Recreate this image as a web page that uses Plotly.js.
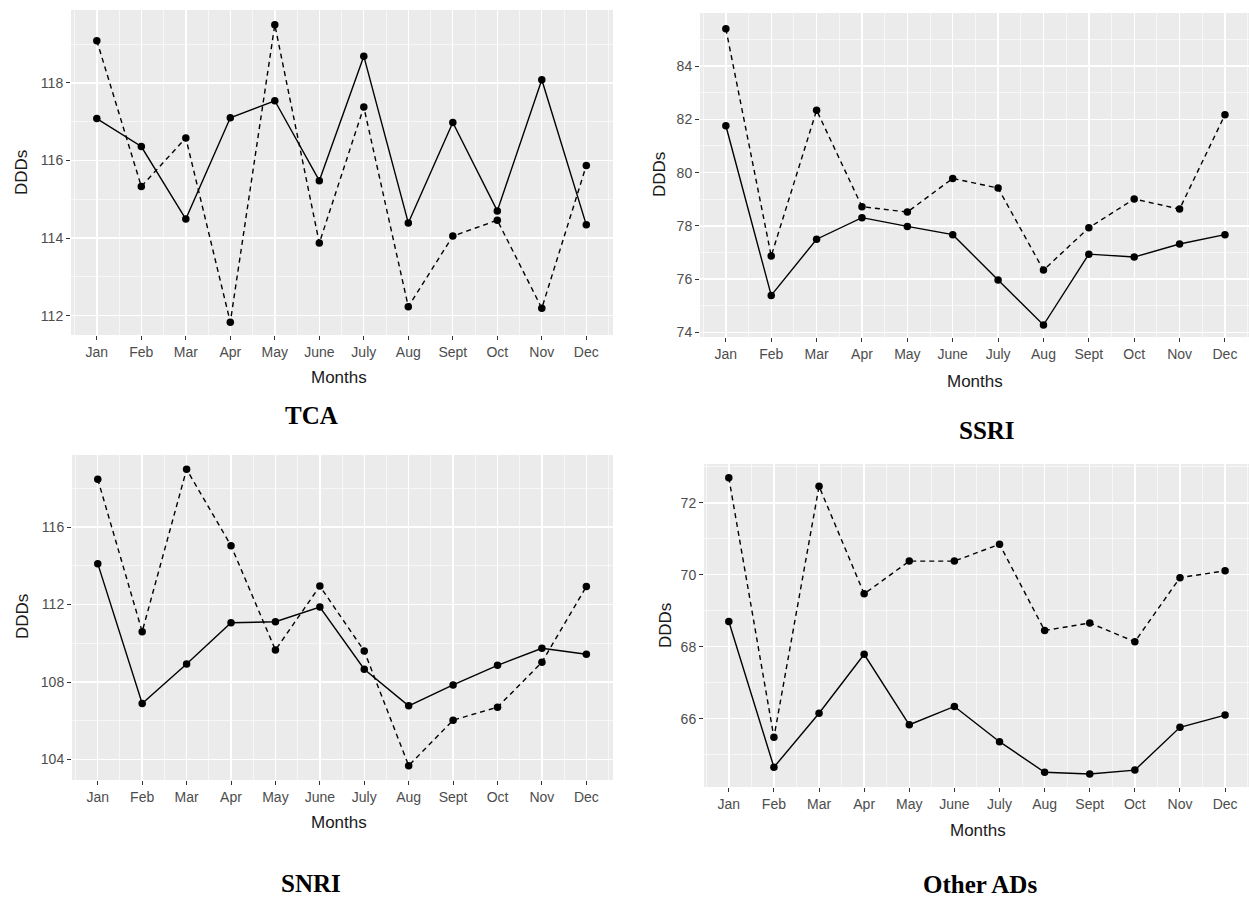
<!DOCTYPE html>
<html>
<head>
<meta charset="utf-8">
<script src="https://cdn.plot.ly/plotly-3.0.1.min.js"></script>
<style>
  html, body { margin: 0; padding: 0; background: #fff; }
  #chart { width: 1249px; height: 900px; }
</style>
</head>
<body>
<div id="chart"></div>
<script>
// ---- Data ----
const months = ["Jan", "Feb", "Mar", "Apr", "May", "June", "July", "Aug", "Sept", "Oct", "Nov", "Dec"];

const tcaSolid  = [117.08, 116.36, 114.49, 117.10, 117.54, 115.48, 118.69, 114.39, 116.98, 114.70, 118.08, 114.34];
const tcaDashed = [119.09, 115.33, 116.58, 111.83, 119.50, 113.87, 117.38, 112.23, 114.05, 114.46, 112.19, 115.87];

const ssriSolid  = [81.76, 75.39, 77.50, 78.31, 77.98, 77.67, 75.97, 74.28, 76.94, 76.83, 77.32, 77.67];
const ssriDashed = [85.40, 76.87, 82.34, 78.72, 78.52, 79.78, 79.42, 76.34, 77.93, 79.01, 78.63, 82.17];

const snriSolid  = [114.11, 106.89, 108.93, 111.06, 111.11, 111.87, 108.66, 106.77, 107.85, 108.86, 109.74, 109.43];
const snriDashed = [118.47, 110.60, 118.98, 115.04, 109.65, 112.95, 109.60, 103.68, 106.03, 106.70, 109.02, 112.93];

const otherSolid  = [68.70, 64.65, 66.15, 67.79, 65.83, 66.34, 65.36, 64.51, 64.46, 64.57, 65.76, 66.10];
const otherDashed = [72.70, 65.48, 72.46, 69.47, 70.38, 70.38, 70.85, 68.45, 68.66, 68.14, 69.92, 70.11];

const tcaTicks   = [112, 114, 116, 118];
const ssriTicks  = [74, 76, 78, 80, 82, 84];
const snriTicks  = [104, 108, 112, 116];
const otherTicks = [66, 68, 70, 72];

const panelTitles = ["TCA", "SSRI", "SNRI", "Other ADs"];
const xTitle = "Months";
const yTitle = "DDDs";

// ---- Layout helpers ----
const W = 1249, H = 900;
const px = v => v / W;
const py = v => 1 - v / H;
const xIdx = months.map((m, i) => i);
const minorX = months.map((m, i) => i + 0.5).concat([-0.5]);

function mids(ticks) {
  const step = ticks[1] - ticks[0];
  const out = [];
  for (let i = 0; i <= ticks.length; i++) out.push(ticks[0] + step * (i - 0.5));
  return out;
}

const panels = [
  { solid: tcaSolid,   dashed: tcaDashed,   ticks: tcaTicks,   box: [71, 613, 10, 335],  xr: [-0.58, 11.6],  yr: [111.50, 119.88],
    title: [311, 415], xt: [339, 378], yt: [22, 173] },
  { solid: ssriSolid,  dashed: ssriDashed,  ticks: ssriTicks,  box: [700, 1249, 13, 337], xr: [-0.57, 11.53], yr: [73.83, 85.99],
    title: [987, 430], xt: [975, 382], yt: [660, 175] },
  { solid: snriSolid,  dashed: snriDashed,  ticks: snriTicks,  box: [72, 613, 455, 780], xr: [-0.58, 11.6],  yr: [102.94, 119.72],
    title: [311, 883], xt: [339, 822], yt: [22, 617] },
  { solid: otherSolid, dashed: otherDashed, ticks: otherTicks, box: [704, 1249, 464, 787], xr: [-0.55, 11.53], yr: [64.10, 73.08],
    title: [980, 884], xt: [978, 830], yt: [665, 626] }
];

const traces = [];
const layout = {
  width: W, height: H,
  margin: { l: 0, r: 0, t: 0, b: 0 },
  paper_bgcolor: "#ffffff",
  plot_bgcolor: "#EBEBEB",
  showlegend: false,
  font: { family: "Liberation Sans, Arial, sans-serif", color: "#4D4D4D" },
  annotations: []
};

panels.forEach((p, k) => {
  const n = k + 1;
  const xa = "x" + (n === 1 ? "" : n);
  const ya = "y" + (n === 1 ? "" : n);
  const xKey = "xaxis" + (n === 1 ? "" : n);
  const yKey = "yaxis" + (n === 1 ? "" : n);

  traces.push({
    x: xIdx, y: p.solid, xaxis: xa, yaxis: ya, type: "scatter", mode: "lines+markers",
    line: { color: "#000000", width: 1.4, dash: "solid" },
    marker: { color: "#000000", size: 7.5 },
    cliponaxis: false, hoverinfo: "skip"
  });
  traces.push({
    x: xIdx, y: p.dashed, xaxis: xa, yaxis: ya, type: "scatter", mode: "lines+markers",
    line: { color: "#000000", width: 1.4, dash: "5px,4px" },
    marker: { color: "#000000", size: 7.5 },
    cliponaxis: false, hoverinfo: "skip"
  });

  layout[xKey] = {
    domain: [px(p.box[0]), px(p.box[1])],
    anchor: ya,
    range: p.xr,
    tickmode: "array", tickvals: xIdx, ticktext: months,
    showgrid: true, gridcolor: "#ffffff", gridwidth: 1.4,
    zeroline: false, showline: false,
    ticks: "outside", ticklen: 4, tickwidth: 1, tickcolor: "#333333",
    tickfont: { size: 14, color: "#4D4D4D", family: "Liberation Sans, Arial, sans-serif" },
    minor: { tickmode: "array", tickvals: minorX, showgrid: true, gridcolor: "#ffffff", gridwidth: 0.6, ticks: "" },
    fixedrange: true
  };
  layout[yKey] = {
    domain: [py(p.box[3]), py(p.box[2])],
    anchor: xa,
    range: p.yr,
    tickmode: "array", tickvals: p.ticks, ticktext: p.ticks.map(String),
    showgrid: true, gridcolor: "#ffffff", gridwidth: 1.4,
    zeroline: false, showline: false,
    ticks: "outside", ticklen: 4, tickwidth: 1, tickcolor: "#333333",
    tickfont: { size: 14, color: "#4D4D4D", family: "Liberation Sans, Arial, sans-serif" },
    minor: { tickmode: "array", tickvals: mids(p.ticks), showgrid: true, gridcolor: "#ffffff", gridwidth: 0.6, ticks: "" },
    fixedrange: true
  };

  layout.annotations.push({
    text: xTitle, xref: "paper", yref: "paper", x: px(p.xt[0]), y: py(p.xt[1]),
    xanchor: "center", yanchor: "middle", showarrow: false,
    font: { size: 17, color: "#1a1a1a", family: "Liberation Sans, Arial, sans-serif" }
  });
  layout.annotations.push({
    text: yTitle, xref: "paper", yref: "paper", x: px(p.yt[0]), y: py(p.yt[1]),
    xanchor: "center", yanchor: "middle", showarrow: false, textangle: -90,
    font: { size: 17, color: "#1a1a1a", family: "Liberation Sans, Arial, sans-serif" }
  });
  layout.annotations.push({
    text: "<b>" + panelTitles[k] + "</b>", xref: "paper", yref: "paper", x: px(p.title[0]), y: py(p.title[1]),
    xanchor: "center", yanchor: "middle", showarrow: false,
    font: { size: 25, color: "#000000", family: "Liberation Serif, Times New Roman, serif" }
  });
});

Plotly.newPlot("chart", traces, layout, { staticPlot: true, displayModeBar: false });
</script>
</body>
</html>
